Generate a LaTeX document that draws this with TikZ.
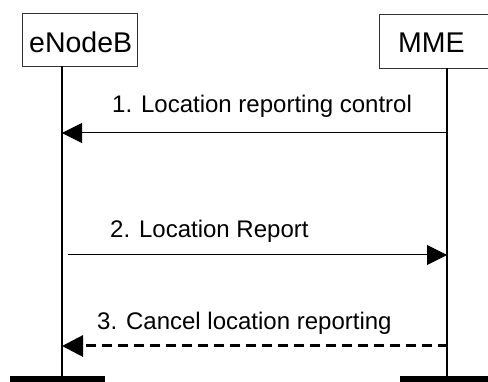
\documentclass[tikz,border=0pt]{standalone}
\usepackage{fontspec}
\setmainfont{Liberation Sans}
\usetikzlibrary{arrows.meta}
\tikzset{
  entitybox/.style={draw=black!80, line width=1pt, inner sep=0pt, anchor=north west},
  entitylabel/.style={inner sep=0pt, anchor=base west, font=\fontsize{28.5}{32}\selectfont},
  msglabel/.style={inner sep=0pt, anchor=base west, font=\fontsize{24}{28}\selectfont},
  lifeline/.style={line width=2pt},
  endbar/.style={fill=black, inner sep=0pt, anchor=north west},
  msgarrow/.style={line width=1pt, -{Triangle[length=20pt,width=20pt]}},
  dasharrow/.style={line width=3pt, dash pattern=on 10pt off 6pt, -{Triangle[length=21pt,width=21pt]}}
}
\begin{document}
\begin{tikzpicture}[x=1pt,y=1pt]
\useasboundingbox (0,0) rectangle (488,-382);
% entity boxes
\node[entitybox, minimum width=115pt, minimum height=53pt] (enb) at (22,-13) {};
\node[entitylabel] (enbtext) at (29,-53) {eNodeB};
\node[entitybox, minimum width=111pt, minimum height=54pt] (mme) at (379,-14) {};
\node[entitylabel] (mmetext) at (398,-53) {MME};
% lifeline coordinates
\coordinate (enbtop) at (62,-66);
\coordinate (enbbot) at (62,-377);
\coordinate (mmetop) at (447,-68);
\coordinate (mmebot) at (447,-377);
\draw[lifeline] (enbtop) -- (enbbot);
\draw[lifeline] (mmetop) -- (mmebot);
% end bars
\node[endbar, minimum width=95pt, minimum height=8pt] (enbbar) at (10,-376) {};
\node[endbar, minimum width=90pt, minimum height=8pt] (mmebar) at (400,-376) {};
% messages
\coordinate (m1s) at (447,-133);
\coordinate (m1e) at (62,-133);
\draw[msgarrow] (m1s) -- (m1e);
\node[msglabel] (m1) at (112,-113) {1. Location reporting control};
\coordinate (m2s) at (68,-255);
\coordinate (m2e) at (447,-255);
\draw[msgarrow] (m2s) -- (m2e);
\node[msglabel] (m2) at (110,-238) {2. Location Report};
\coordinate (m3s) at (448,-346);
\coordinate (m3e) at (62,-346);
\draw[dasharrow] (m3s) -- (m3e);
\node[msglabel] (m3) at (97,-330) {3. Cancel location reporting};
\end{tikzpicture}
\end{document}
